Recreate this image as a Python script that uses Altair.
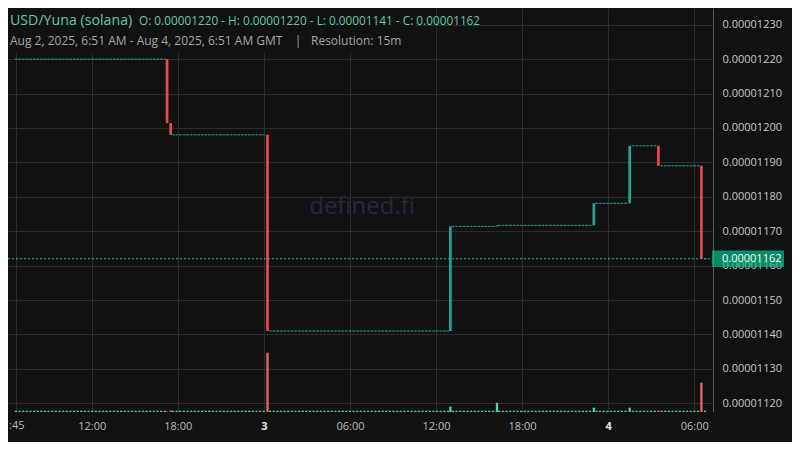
import altair as alt
import pandas as pd

BG = "#111111"
FONT = "Open Sans"

# ---- data (prices in units of 1e-8 USD) ----
flat_start = ["2025-08-02T06:38:00Z", "2025-08-02T17:35:00Z", "2025-08-03T00:21:00Z",
              "2025-08-03T13:06:00Z", "2025-08-03T16:20:00Z", "2025-08-03T23:06:00Z",
              "2025-08-04T01:39:00Z", "2025-08-04T03:39:00Z", "2025-08-04T06:40:00Z"]
flat_end = ["2025-08-02T17:10:00Z", "2025-08-03T00:04:00Z", "2025-08-03T12:54:00Z",
            "2025-08-03T16:10:00Z", "2025-08-03T22:50:00Z", "2025-08-04T01:23:00Z",
            "2025-08-04T03:22:00Z", "2025-08-04T06:24:00Z", "2025-08-04T06:51:00Z"]
flat_price = [1220.0, 1198.0, 1141.0, 1171.4, 1171.7, 1178.1, 1194.8, 1189.0, 1162.0]
flat_volume = [7, 7, 7, 7, 7, 7, 7, 7, 7]

candle_time = ["2025-08-02T17:15:00Z", "2025-08-02T17:30:00Z", "2025-08-03T00:15:00Z",
               "2025-08-03T13:00:00Z", "2025-08-03T16:15:00Z", "2025-08-03T23:00:00Z",
               "2025-08-04T01:30:00Z", "2025-08-04T03:30:00Z", "2025-08-04T06:30:00Z"]
candle_open = [1220.0, 1201.4, 1198.0, 1141.0, 1171.4, 1171.7, 1178.1, 1194.8, 1189.0]
candle_close = [1201.4, 1198.0, 1141.0, 1171.4, 1171.7, 1178.1, 1194.8, 1189.0, 1162.0]
candle_volume = [5, 15, 593, 53, 93, 43, 43, 13, 293]

y_ticks = [1120, 1130, 1140, 1150, 1160, 1170, 1180, 1190, 1200, 1210, 1220, 1230]
last_price = 1162.0

S = 1e-8
flat = pd.DataFrame({"t1": flat_start, "t2": flat_end,
                     "p": [round(v * S, 12) for v in flat_price], "vol": flat_volume})
candles = pd.DataFrame({"t": candle_time,
                        "o": [round(v * S, 12) for v in candle_open],
                        "c": [round(v * S, 12) for v in candle_close],
                        "vol": candle_volume})
candles["dir"] = ["up" if c >= o else "down" for o, c in zip(candles["o"], candles["c"])]
lastdf = pd.DataFrame({"p": [round(last_price * S, 12)], "txt": ["%.8f" % (last_price * S)]})
one = pd.DataFrame({"a": [0]})

W, H = 705, 404
UP, DOWN = "#1fa692", "#f04552"
VUP, VDOWN = "#55ccae", "#ea6575"

xscale = alt.Scale(type="utc", domain=[
    alt.DateTime(year=2025, month=8, date=2, hours=6, minutes=30, seconds=36, utc=True),
    alt.DateTime(year=2025, month=8, date=4, hours=6, minutes=57, seconds=30, utc=True)])
x_vals = [alt.DateTime(year=2025, month=8, date=d, hours=h, minutes=m, utc=True)
          for d, h, m in [(2, 6, 45), (2, 12, 0), (2, 18, 0), (3, 0, 0), (3, 6, 0),
                          (3, 12, 0), (3, 18, 0), (4, 0, 0), (4, 6, 0)]]
xaxis = alt.Axis(
    values=x_vals, title=None, domain=False, ticks=False, tickSize=0, labelPadding=8,
    grid=True, gridColor="#2c2c2c", labelFont=FONT, labelFontSize=11, zindex=0,
    labelColor={"condition": {"test": "utchours(datum.value) == 0", "value": "#e6e6e6"}, "value": "#bdbdbd"},
    labelFontWeight={"condition": {"test": "utchours(datum.value) == 0", "value": "bold"}, "value": "normal"},
    labelExpr="utchours(datum.value) == 0 ? utcdate(datum.value) : (utcminutes(datum.value) == 45 ? '' : utcFormat(datum.value, '%H:%M'))",
    labelFlush=False, labelOverlap=False)

lo = 1117.47 * S
hi = 1234.85 * S
yscale = alt.Scale(domain=[lo, hi], nice=False, zero=False)
yaxis = alt.Axis(orient="right", values=[round(v * S, 12) for v in y_ticks], format=".8f",
                 title=None, ticks=False, tickSize=0, labelPadding=9, domainColor="#5a5a5a",
                 grid=True, gridColor="#2c2c2c", labelFont=FONT, labelFontSize=11, zindex=0,
                 labelColor="#c8c8c8", labelOverlap=False, labelFlush=False, tickCount=12)

mask = alt.Chart(one).mark_rect(color=BG).encode(
    x=alt.value(0), x2=alt.value(407), y=alt.value(0), y2=alt.value(45))

watermark = alt.Chart(one).mark_text(text="defined.fi", font=FONT, fontSize=24,
                                     color="#27253f", align="center", baseline="middle").encode(
    x=alt.value(354), y=alt.value(199))

flat_lines = alt.Chart(flat).mark_rule(color=UP, strokeWidth=1, strokeDash=[2.7, 0.93]).encode(
    x=alt.X("t1:T", scale=xscale, axis=xaxis), x2="t2:T",
    y=alt.Y("p:Q", scale=yscale, axis=yaxis))

candle_bars = alt.Chart(candles).mark_bar(size=2.7).encode(
    x=alt.X("t:T", scale=xscale, axis=xaxis),
    y=alt.Y("o:Q", scale=yscale, axis=yaxis), y2="c:Q",
    color=alt.Color("dir:N", scale=alt.Scale(domain=["up", "down"], range=[UP, DOWN]), legend=None))

last_line = alt.Chart(lastdf).mark_rule(color="#22b39a", strokeWidth=1, strokeDash=[2, 2]).encode(
    y=alt.Y("p:Q", scale=yscale, axis=yaxis), x=alt.value(0), x2=alt.value(W))

price_box = alt.Chart(lastdf).mark_tick(color="#05bf8c", size=72, thickness=16.4,
                                        orient="horizontal", clip=False).encode(
    y=alt.Y("p:Q", scale=yscale, axis=yaxis), x=alt.value(740))
price_txt = alt.Chart(lastdf).mark_text(color="#f2fbf7", font=FONT, fontSize=11, align="left",
                                        baseline="middle", clip=False).encode(
    y=alt.Y("p:Q", scale=yscale, axis=yaxis), x=alt.value(714), text="txt:N")

price_layer = alt.layer(flat_lines, candle_bars, last_line, price_box, price_txt)

vscale = alt.Scale(domain=[0, 4040], nice=False, zero=True)
vol_base = alt.Chart(flat).mark_rule(color=VUP, strokeWidth=1.3, strokeDash=[2.3, 1.33]).encode(
    x=alt.X("t1:T", scale=xscale, axis=xaxis), x2="t2:T",
    y=alt.Y("vol:Q", scale=vscale, axis=None))
vol_bars = alt.Chart(candles).mark_bar(size=2.3).encode(
    x=alt.X("t:T", scale=xscale, axis=xaxis),
    y=alt.Y("vol:Q", scale=vscale, axis=None),
    color=alt.Color("dir:N", scale=alt.Scale(domain=["up", "down"], range=[VUP, VDOWN]), legend=None))
vol_layer = alt.layer(vol_base, vol_bars)

title1 = alt.Chart(one).mark_text(text="USD/Yuna (solana)", font=FONT, fontSize=14.2,
                                  color="#5fcda6", align="left", baseline="alphabetic").encode(
    x=alt.value(2), y=alt.value(17))
title_ohlc = alt.Chart(one).mark_text(
    text="O: 0.00001220 - H: 0.00001220 - L: 0.00001141 - C: 0.00001162", font=FONT,
    fontSize=11.8, color="#5fcda6", align="left", baseline="alphabetic").encode(
    x=alt.value(131), y=alt.value(17))
sub1 = alt.Chart(one).mark_text(text="Aug 2, 2025, 6:51 AM - Aug 4, 2025, 6:51 AM GMT",
                                font=FONT, fontSize=12, color="#a6a6a6", align="left",
                                baseline="alphabetic").encode(x=alt.value(2), y=alt.value(37))
sub2 = alt.Chart(one).mark_text(text="|", font=FONT, fontSize=12, color="#a6a6a6",
                                align="center", baseline="alphabetic").encode(
    x=alt.value(290), y=alt.value(37))
sub3 = alt.Chart(one).mark_text(text="Resolution: 15m", font=FONT, fontSize=12, color="#a6a6a6",
                                align="left", baseline="alphabetic").encode(
    x=alt.value(303), y=alt.value(37))
cut_label = alt.Chart(one).mark_text(text=":45", font=FONT, fontSize=11, color="#bdbdbd",
                                     align="left", baseline="top", clip=False).encode(
    x=alt.value(1), y=alt.value(H + 8))

chart = alt.layer(
    mask, watermark,
    alt.layer(price_layer, vol_layer).resolve_scale(y="independent", color="independent"),
    title1, title_ohlc, sub1, sub2, sub3, cut_label,
).properties(
    width=W, height=H, background=BG,
    padding={"left": 0, "top": 0, "right": 79, "bottom": 30},
    autosize=alt.AutoSizeParams(type="none"),
).configure_view(strokeWidth=0)

chart.save("out.html", embed_options={"renderer": "svg", "actions": False})
